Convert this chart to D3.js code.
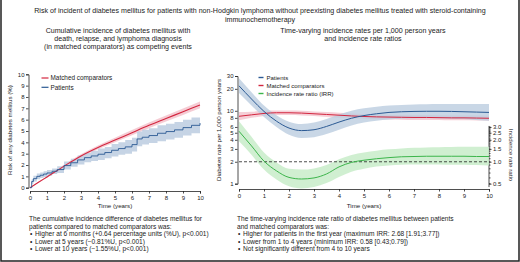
<!DOCTYPE html>
<html>
<head>
<meta charset="utf-8">
<script src="https://cdn.jsdelivr.net/npm/d3@7"></script>
<style>
  body { margin: 0; background: #fff; }
  svg { display: block; font-family: "Liberation Sans", Arial, sans-serif; }
  .axis path, .axis line { stroke: #222; stroke-width: 0.8; }
  .axis text { font-size: 6px; fill: #222; font-family: "Liberation Sans", Arial, sans-serif; }
  .note { font-size: 6.6px; fill: #222; }
  .ttl { font-size: 7.1px; fill: #222; }
  .lab { font-size: 6.2px; fill: #222; font-family: "Liberation Sans Narrow", "Liberation Sans", Arial, sans-serif; }
</style>
</head>
<body>
<div id="chart"></div>
<script>
/*
----------------------------------------------------
    Data
----------------------------------------------------
*/
// left panel: cumulative incidence (%)
var ciTimePat = [0, 0.1, 0.2, 0.4, 0.6, 0.8, 1.0, 1.3, 1.6, 2.0, 2.4, 2.8, 3.2, 3.6, 4.0, 4.4, 4.8, 5.2, 5.6, 6.0, 6.3, 6.6, 7.0, 7.5, 8.0, 8.5, 9.0, 9.5, 10];
var ciPatients = [0, 0.55, 0.8, 1.0, 1.1, 1.2, 1.3, 1.45, 1.6, 1.95, 2.2, 2.45, 2.65, 2.8, 2.95, 3.1, 3.3, 3.45, 3.6, 3.8, 4.3, 4.45, 4.6, 4.8, 4.95, 5.1, 5.3, 5.5, 5.7];
var ciPatientsLo = [0, 0.35, 0.55, 0.75, 0.85, 0.95, 1.05, 1.2, 1.3, 1.6, 1.85, 2.05, 2.25, 2.35, 2.45, 2.6, 2.75, 2.9, 3.0, 3.2, 3.65, 3.8, 3.95, 4.1, 4.25, 4.4, 4.6, 4.8, 5.0];
var ciPatientsHi = [0, 0.75, 1.05, 1.25, 1.35, 1.45, 1.55, 1.7, 1.9, 2.3, 2.55, 2.85, 3.05, 3.25, 3.45, 3.6, 3.85, 4.0, 4.2, 4.4, 4.95, 5.1, 5.25, 5.5, 5.65, 5.8, 6.0, 6.2, 6.4];

var ciTimeMat = [0, 0.5, 1, 2, 3, 4, 5, 6, 7, 8, 9, 10];
var ciMatched = [0, 0.48, 0.95, 1.9, 2.8, 3.55, 4.2, 4.85, 5.5, 6.1, 6.7, 7.3];
var ciMatchedLo = [0, 0.44, 0.88, 1.78, 2.65, 3.38, 4.0, 4.62, 5.25, 5.83, 6.42, 7.0];
var ciMatchedHi = [0, 0.52, 1.02, 2.02, 2.95, 3.72, 4.4, 5.08, 5.75, 6.37, 6.98, 7.6];

// right panel: time-varying rates per 1,000 person years and IRR
var trTime = [0, 0.5, 1, 1.5, 2, 2.5, 3, 3.5, 4, 4.5, 5, 5.5, 6, 6.5, 7, 7.5, 8, 8.5, 9, 9.5, 10];
var ratePatients = [22, 14.5, 9.8, 7.2, 5.8, 5.35, 5.5, 6.1, 7.0, 7.9, 8.6, 9.1, 9.5, 9.7, 9.8, 9.85, 9.85, 9.8, 9.7, 9.6, 9.5];
var ratePatientsLo = [17.5, 11.8, 8.2, 6.0, 4.7, 4.25, 4.35, 4.8, 5.5, 6.3, 6.9, 7.3, 7.6, 7.8, 7.85, 7.9, 7.85, 7.8, 7.7, 7.5, 7.3];
var ratePatientsHi = [28, 18, 11.8, 8.7, 7.1, 6.6, 6.9, 7.7, 8.9, 10, 10.8, 11.4, 11.8, 12, 12.2, 12.3, 12.4, 12.4, 12.4, 12.4, 12.4];

var rateMatched = [8.4, 8.8, 9.2, 9.4, 9.4, 9.3, 9.1, 8.9, 8.7, 8.5, 8.35, 8.25, 8.2, 8.15, 8.1, 8.1, 8.05, 8.0, 8.0, 7.95, 7.9];
var rateMatchedLo = [7.4, 8.0, 8.5, 8.75, 8.75, 8.65, 8.45, 8.25, 8.05, 7.9, 7.75, 7.65, 7.6, 7.55, 7.5, 7.5, 7.45, 7.4, 7.4, 7.35, 7.3];
var rateMatchedHi = [9.6, 9.7, 10.0, 10.1, 10.1, 10.0, 9.8, 9.6, 9.4, 9.2, 9.0, 8.9, 8.85, 8.8, 8.75, 8.75, 8.7, 8.65, 8.65, 8.6, 8.55];

var irr = [2.62, 1.65, 1.02, 0.75, 0.61, 0.58, 0.6, 0.68, 0.85, 0.98, 1.05, 1.1, 1.14, 1.17, 1.18, 1.19, 1.19, 1.19, 1.19, 1.18, 1.18];
var irrLo = [1.91, 1.25, 0.78, 0.57, 0.46, 0.43, 0.45, 0.51, 0.62, 0.73, 0.8, 0.86, 0.89, 0.91, 0.92, 0.92, 0.92, 0.91, 0.91, 0.9, 0.89];
var irrHi = [3.6, 2.2, 1.34, 0.98, 0.8, 0.78, 0.81, 0.9, 1.08, 1.24, 1.34, 1.42, 1.48, 1.52, 1.55, 1.57, 1.58, 1.59, 1.6, 1.6, 1.61];

// ticks
var yearTicks = [0, 1, 2, 3, 4, 5, 6, 7, 8, 9, 10];
var riskTicks = [0, 1, 2, 3, 4, 5, 6, 7, 8, 9, 10];
var rateTicks = [1, 2, 3, 4, 5, 6, 8, 10, 20, 30];
var irrTicks = [0.5, 1.0, 1.5, 2.0, 2.5, 3.0];

// texts
var mainTitle = ["Risk of incident of diabetes mellitus for patients with non-Hodgkin lymphoma without preexisting diabetes mellitus treated with steroid-containing",
                 "immunochemotherapy"];
var leftTitle = ["Cumulative incidence of diabetes mellitus with", "death, relapse, and lymphoma diagnosis", "(in matched comparators) as competing events"];
var rightTitle = ["Time-varying incidence rates per 1,000 person years", "and incidence rate ratios"];
var leftNote = ["The cumulative incidence difference of diabetes mellitus for", "patients compared to matched comparators was:"];
var leftBullets = ["Higher at 6 months (+0.64 percentage units (%U), p<0.001)", "Lower at 5 years (\u22120.81%U, p<0.001)", "Lower at 10 years (\u22121.55%U, p<0.001)"];
var rightNote = ["The time-varying incidence rate ratio of diabetes mellitus between patients", "and matched comparators was:"];
var rightBullets = ["Higher for patients in the first year (maximum IRR: 2.68 [1.91;3.77])", "Lower from 1 to 4 years (minimum IRR: 0.58 [0.43;0.79])", "Not significantly different from 4 to 10 years"];

var colBlue = "#2b5a94", colBlueBand = "#bccde0";
var colRed = "#d3263f", colRedBand = "#f3c3cd";
var colGreen = "#3cb54b", colGreenBand = "#c8ecc9";

/*
----------------------------------------------------
    Setup
----------------------------------------------------
*/
var W = 520, H = 262;
var svg = d3.select("#chart").append("svg").attr("width", W).attr("height", H);

// frame
svg.append("path")
    .attr("d", "M1,0 V261 H519 V0")
    .attr("fill", "none")
    .attr("stroke", "#222")
    .attr("stroke-width", 1.5);

function lines(list, x, y0, dy, cls, anchor) {
    list.forEach(function (t, i) {
        svg.append("text")
            .attr("class", cls)
            .attr("x", x)
            .attr("y", y0 + i * dy)
            .attr("text-anchor", anchor)
            .text(t);
    });
}

lines(mainTitle, 260, 13.3, 9, "ttl", "middle");
lines(leftTitle, 118, 32.6, 8.1, "ttl", "middle");
lines(rightTitle, 363, 32.6, 8.1, "ttl", "middle");

/*
----------------------------------------------------
    Left panel
----------------------------------------------------
*/
var xL = d3.scaleLinear().domain([0, 10]).range([30, 200]);
var yL = d3.scaleLinear().domain([0, 10]).range([187.7, 74.3]);

svg.append("g").attr("class", "axis")
    .attr("transform", "translate(0,191)")
    .call(d3.axisBottom(xL).tickValues(yearTicks).tickSize(2.5).tickPadding(2).tickFormat(d3.format("d")));
svg.append("g").attr("class", "axis")
    .attr("transform", "translate(28.5,0)")
    .call(d3.axisLeft(yL).tickValues(riskTicks).tickSize(2.5).tickPadding(1.5).tickFormat(d3.format("d")));

var patData = ciTimePat.map((t, i) => ({ t: t, v: ciPatients[i], lo: ciPatientsLo[i], hi: ciPatientsHi[i] }));
var matData = ciTimeMat.map((t, i) => ({ t: t, v: ciMatched[i], lo: ciMatchedLo[i], hi: ciMatchedHi[i] }));

var areaL = d3.area().x(d => xL(d.t)).y0(d => yL(d.lo)).y1(d => yL(d.hi));
var lineL = d3.line().x(d => xL(d.t)).y(d => yL(d.v));

svg.append("path").datum(matData).attr("d", areaL.curve(d3.curveMonotoneX)).attr("fill", colRedBand).attr("opacity", 0.85);
svg.append("path").datum(patData).attr("d", areaL.curve(d3.curveStepAfter)).attr("fill", colBlueBand).attr("opacity", 0.85);
svg.append("path").datum(matData).attr("d", lineL.curve(d3.curveMonotoneX)).attr("fill", "none").attr("stroke", colRed).attr("stroke-width", 1.1);
svg.append("path").datum(patData).attr("d", lineL.curve(d3.curveStepAfter)).attr("fill", "none").attr("stroke", colBlue).attr("stroke-width", 0.9);

// left legend
[["Matched comparators", colRed], ["Patients", colBlue]].forEach((d, i) => {
    svg.append("line").attr("x1", 41.5).attr("x2", 48.5).attr("y1", 78 + i * 9.3).attr("y2", 78 + i * 9.3)
        .attr("stroke", d[1]).attr("stroke-width", 1.2);
    svg.append("text").attr("x", 50.5).attr("y", 80.2 + i * 9.3)
        .style("font-size", "6.4px").attr("fill", "#222").text(d[0]);
});

svg.append("text").attr("class", "lab").attr("x", 115).attr("y", 208).attr("text-anchor", "middle").text("Time (years)");
svg.append("text").attr("class", "lab").attr("transform", "translate(12,130) rotate(-90)").attr("text-anchor", "middle")
    .text("Risk of any diabetes mellitus (%)");

/*
----------------------------------------------------
    Right panel
----------------------------------------------------
*/
var xR = d3.scaleLinear().domain([0, 10]).range([239, 489]);
var yR = d3.scaleLog().domain([1, 30]).range([183.7, 76]);
// IRR is drawn against the same log axis, shifted so that IRR 1 sits at rate 2
var yIRR = d3.scaleLog().domain([0.5, 15]).range([183.7, 76]);

svg.append("g").attr("class", "axis")
    .attr("transform", "translate(0,189)")
    .call(d3.axisBottom(xR).tickValues(yearTicks).tickSize(2.5).tickPadding(2).tickFormat(d3.format("d")));
svg.append("g").attr("class", "axis")
    .attr("transform", "translate(237.5,0)")
    .call(d3.axisLeft(yR).tickValues(rateTicks).tickSize(2.5).tickPadding(1.5).tickFormat(d3.format("d")));

var irrAxis = svg.append("g").attr("class", "axis")
    .attr("transform", "translate(489,0)")
    .call(d3.axisRight(yIRR).tickValues(irrTicks).tickSize(2.5).tickPadding(1.5).tickFormat(d3.format(".1f")));
irrAxis.select(".domain").attr("d", "M0," + yIRR(0.45) + "V" + yIRR(3.1));
// minor ticks on the IRR axis
var minorIrr = d3.range(5, 31).map(d => d / 10);
irrAxis.selectAll(".minor").data(minorIrr).enter().append("line")
    .attr("class", "minor").attr("x1", 0).attr("x2", 1.5)
    .attr("y1", d => yIRR(d)).attr("y2", d => yIRR(d))
    .attr("stroke", "#222").attr("stroke-width", 0.5);

var patR = trTime.map((t, i) => ({ t: t, v: ratePatients[i], lo: ratePatientsLo[i], hi: ratePatientsHi[i] }));
var matR = trTime.map((t, i) => ({ t: t, v: rateMatched[i], lo: rateMatchedLo[i], hi: rateMatchedHi[i] }));
var irrR = trTime.map((t, i) => ({ t: t, v: irr[i], lo: irrLo[i], hi: irrHi[i] }));

function band(scale) {
    return d3.area().curve(d3.curveMonotoneX).x(d => xR(d.t)).y0(d => scale(d.lo)).y1(d => scale(d.hi));
}
function curve(scale) {
    return d3.line().curve(d3.curveMonotoneX).x(d => xR(d.t)).y(d => scale(d.v));
}

svg.append("path").datum(irrR).attr("d", band(yIRR)).attr("fill", colGreenBand).attr("opacity", 0.85);
svg.append("path").datum(matR).attr("d", band(yR)).attr("fill", colRedBand).attr("opacity", 0.8);
svg.append("path").datum(patR).attr("d", band(yR)).attr("fill", colBlueBand).attr("opacity", 0.8);

svg.append("line")
    .attr("x1", xR(0)).attr("x2", xR(10)).attr("y1", yIRR(1)).attr("y2", yIRR(1))
    .attr("stroke", "#222").attr("stroke-width", 0.8).attr("stroke-dasharray", "3,2");

svg.append("path").datum(irrR).attr("d", curve(yIRR)).attr("fill", "none").attr("stroke", colGreen).attr("stroke-width", 1);
svg.append("path").datum(matR).attr("d", curve(yR)).attr("fill", "none").attr("stroke", colRed).attr("stroke-width", 1);
svg.append("path").datum(patR).attr("d", curve(yR)).attr("fill", "none").attr("stroke", colBlue).attr("stroke-width", 1);

// right legend
[["Patients", colBlue], ["Matched comparators", colRed], ["Incidence rate ratio (IRR)", colGreen]].forEach((d, i) => {
    svg.append("line").attr("x1", 258.5).attr("x2", 263.5).attr("y1", 77.5 + i * 8).attr("y2", 77.5 + i * 8)
        .attr("stroke", d[1]).attr("stroke-width", 1.4);
    svg.append("text").attr("x", 266.5).attr("y", 79.6 + i * 8)
        .style("font-size", "6px").attr("fill", "#222").text(d[0]);
});

svg.append("text").attr("class", "lab").attr("x", 364).attr("y", 208).attr("text-anchor", "middle").text("Time (years)");
svg.append("text").attr("class", "lab").attr("transform", "translate(220.5,130) rotate(-90)").attr("text-anchor", "middle")
    .text("Diabetes rate per 1,000 person years");
svg.append("text").attr("class", "lab").attr("transform", "translate(508.5,155) rotate(90)").attr("text-anchor", "middle")
    .text("Incidence rate ratio");

/*
----------------------------------------------------
    Notes
----------------------------------------------------
*/
lines(leftNote, 29, 221.3, 7.4, "note", "start");
lines(rightNote, 237, 221.3, 7.4, "note", "start");
leftBullets.forEach((t, i) => {
    lines(["\u2022"], 30, 236.2 + i * 7.4, 0, "note", "start");
    lines([t], 35, 236.2 + i * 7.4, 0, "note", "start");
});
rightBullets.forEach((t, i) => {
    lines(["\u2022"], 238, 236.2 + i * 7.4, 0, "note", "start");
    lines([t], 243, 236.2 + i * 7.4, 0, "note", "start");
});
</script>
</body>
</html>
